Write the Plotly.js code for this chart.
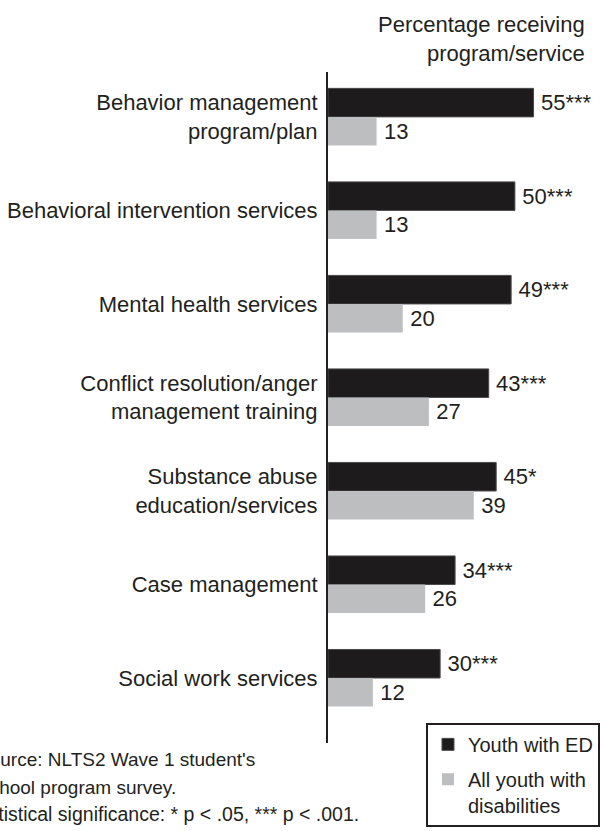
<!DOCTYPE html>
<html>
<head>
<meta charset="utf-8">
<script src="https://cdn.plot.ly/plotly-3.0.1.min.js"></script>
<style>
html,body{margin:0;padding:0;background:#fff;}
#chart{width:600px;height:831px;}
</style>
</head>
<body>
<div id="chart"></div>
<script>
var categories = [
  "Behavior management<br>program/plan",
  "Behavioral intervention services",
  "Mental health services",
  "Conflict resolution/anger<br>management training",
  "Substance abuse<br>education/services",
  "Case management",
  "Social work services"
];
var edValues = [55, 50, 49, 43, 45, 34, 30];
var edSig = ["***", "***", "***", "***", "*", "***", "***"];
var allValues = [13, 13, 20, 27, 39, 26, 12];
var seriesNames = ["Youth with ED", "All youth with<br>disabilities"];
var axisTitle = "Percentage receiving<br>program/service";
var footnotes = [
  "Source: NLTS2 Wave 1 student's",
  "School program survey.",
  "Statistical significance: * p < .05, *** p < .001."
];

var FONT = "Liberation Sans, Arial, Helvetica, sans-serif";
var TXT = "#231f20";

var edText = edValues.map(function(v, i){ return "\u2009" + v + edSig[i]; });
var allText = allValues.map(function(v){ return "\u2009" + v; });

var traces = [
  {
    type: "bar", orientation: "h",
    name: seriesNames[0], legendgroup: "a",
    y: categories, x: edValues,
    text: edText, textposition: "outside", cliponaxis: false,
    textfont: {family: FONT, size: 22, color: TXT},
    marker: {color: "#1e1b1c", line: {color: "#4a4a4a", width: 1}},
    hoverinfo: "skip"
  },
  {
    type: "bar", orientation: "h",
    name: seriesNames[1], legendgroup: "b",
    y: categories, x: allValues,
    text: allText, textposition: "outside", cliponaxis: false,
    textfont: {family: FONT, size: 22, color: TXT},
    marker: {color: "#bcbec0", line: {width: 0}},
    hoverinfo: "skip"
  }
];

var annotations = [
  {
    text: axisTitle, xref: "paper", yref: "paper",
    x: 0.99, y: 1.092, xanchor: "right", yanchor: "top", align: "right",
    showarrow: false, font: {family: FONT, size: 22, color: TXT}
  }
];
var fnX = [-1.349, -1.349, -1.378];
var fnY = [-0.025, -0.066, -0.106];
var fnSize = [19, 19, 19.5];
footnotes.forEach(function(t, i){
  annotations.push({
    text: t, xref: "paper", yref: "paper",
    x: fnX[i], y: fnY[i], xanchor: "left", yanchor: "middle", align: "left",
    showarrow: false, font: {family: FONT, size: fnSize[i], color: TXT}
  });
});

var layout = {
  width: 600, height: 831,
  margin: {l: 328, r: 0, t: 72, b: 88, pad: 0},
  paper_bgcolor: "#ffffff", plot_bgcolor: "#ffffff",
  barmode: "group", bargap: 0.39, bargroupgap: 0,
  showlegend: true,
  legend: {
    x: 0.374, y: 0.03, xanchor: "left", yanchor: "top",
    traceorder: "grouped", tracegroupgap: 6, valign: "top",
    bgcolor: "#ffffff", bordercolor: TXT, borderwidth: 2,
    font: {family: FONT, size: 20, color: TXT}
  },
  xaxis: {range: [0, 70.1], visible: false, fixedrange: true},
  yaxis: {
    type: "category", range: [6.695, -0.48],
    showline: true, linecolor: TXT, linewidth: 2,
    showgrid: false, zeroline: false,
    ticks: "outside", ticklen: 4, tickcolor: "rgba(0,0,0,0)",
    tickfont: {family: FONT, size: 22, color: TXT},
    fixedrange: true
  },
  annotations: annotations,
  font: {family: FONT, color: TXT}
};

Plotly.newPlot("chart", traces, layout, {displayModeBar: false, staticPlot: true});
</script>
</body>
</html>
